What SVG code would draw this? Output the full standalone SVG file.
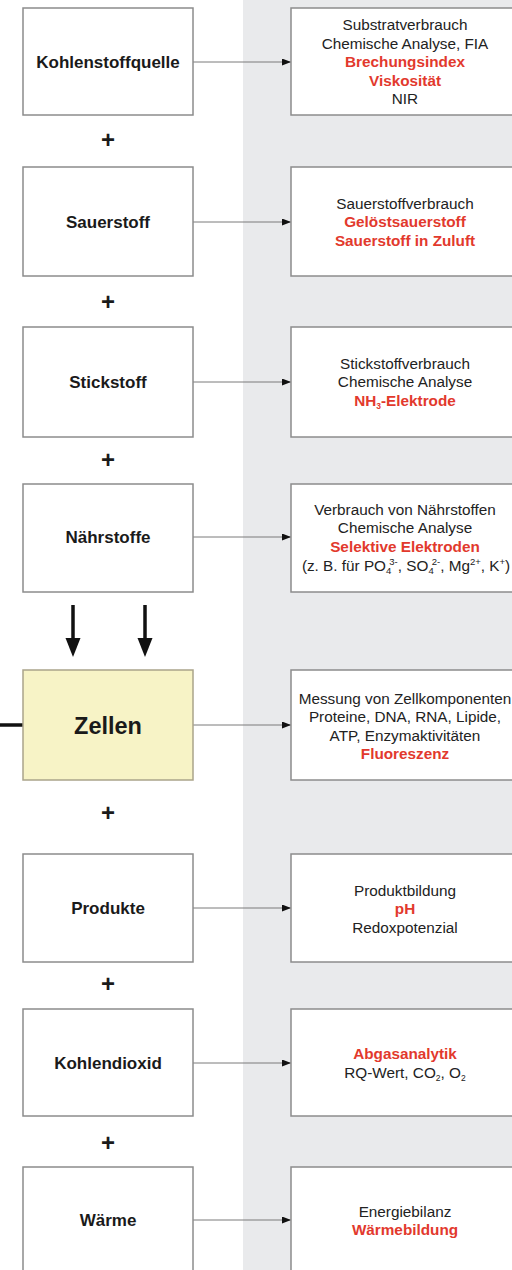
<svg xmlns="http://www.w3.org/2000/svg" width="512" height="1270" viewBox="0 0 512 1270">
<style>
.box{fill:#ffffff;stroke:#8c8c8c;stroke-width:1.5}
.cell{fill:#f7f3c6;stroke:#aaa48a;stroke-width:1.5}
.lbl{font-family:"Liberation Sans",Arial,sans-serif;font-weight:bold;font-size:17px;fill:#1a1a1a;text-anchor:middle}
.big{font-size:23.5px}
.plus{font-family:"Liberation Sans",Arial,sans-serif;font-weight:bold;font-size:24px;fill:#1a1a1a;text-anchor:middle}
.txt{font-family:"Liberation Sans",Arial,sans-serif;font-size:15.3px;fill:#222222;text-anchor:middle}
.red{fill:#e2392d;font-weight:bold}
.sm{font-size:8.5px}
.sn{font-size:9.5px}
.conn{stroke:#7a7a7a;stroke-width:1;fill:none}
.thick{stroke:#111111;stroke-width:3.5;fill:none}
</style>
<defs>
<marker id="ah" markerUnits="userSpaceOnUse" markerWidth="10" markerHeight="8" refX="9" refY="3.5" orient="auto">
<path d="M0,0 L9,3.5 L0,7 z" fill="#111111"/>
</marker>
<marker id="bh" markerUnits="userSpaceOnUse" markerWidth="20" markerHeight="16" refX="7" refY="7.5" orient="auto">
<path d="M0,0 L19,7.5 L0,15 z" fill="#111111"/>
</marker>
</defs>
<rect x="0" y="0" width="512" height="1270" fill="#ffffff"/>
<rect x="243" y="0" width="269" height="1270" fill="#e9eaec"/>

<g id="connectors">
<line class="conn" x1="193" y1="62" x2="291" y2="62" marker-end="url(#ah)"/>
<line class="conn" x1="193" y1="222" x2="291" y2="222" marker-end="url(#ah)"/>
<line class="conn" x1="193" y1="382" x2="291" y2="382" marker-end="url(#ah)"/>
<line class="conn" x1="193" y1="537" x2="291" y2="537" marker-end="url(#ah)"/>
<line class="conn" x1="193" y1="725" x2="291" y2="725" marker-end="url(#ah)"/>
<line class="conn" x1="193" y1="908" x2="291" y2="908" marker-end="url(#ah)"/>
<line class="conn" x1="193" y1="1063" x2="291" y2="1063" marker-end="url(#ah)"/>
<line class="conn" x1="193" y1="1220" x2="291" y2="1220" marker-end="url(#ah)"/>
<line class="thick" x1="73" y1="605" x2="73" y2="645" marker-end="url(#bh)"/>
<line class="thick" x1="145" y1="605" x2="145" y2="645" marker-end="url(#bh)"/>
<line class="thick" x1="0" y1="725" x2="23" y2="725" stroke-width="3"/>
</g>

<g id="n-kohlenstoffquelle">
<rect class="box" x="23" y="8" width="170" height="107"/>
<text class="lbl" x="108" y="68">Kohlenstoffquelle</text>
</g>
<g id="plus1"><text class="plus" x="108" y="148">+</text></g>
<g id="n-sauerstoff">
<rect class="box" x="23" y="167" width="170" height="109"/>
<text class="lbl" x="108" y="228">Sauerstoff</text>
</g>
<g id="plus2"><text class="plus" x="108" y="310">+</text></g>
<g id="n-stickstoff">
<rect class="box" x="23" y="327" width="170" height="110"/>
<text class="lbl" x="108" y="388">Stickstoff</text>
</g>
<g id="plus3"><text class="plus" x="108" y="468">+</text></g>
<g id="n-naehrstoffe">
<rect class="box" x="23" y="484" width="170" height="108"/>
<text class="lbl" x="108" y="543">Nährstoffe</text>
</g>
<g id="n-zellen">
<rect class="cell" x="23" y="670" width="170" height="110"/>
<text class="lbl big" x="108" y="733.5">Zellen</text>
</g>
<g id="plus4"><text class="plus" x="108" y="821">+</text></g>
<g id="n-produkte">
<rect class="box" x="23" y="854" width="170" height="108"/>
<text class="lbl" x="108" y="914">Produkte</text>
</g>
<g id="plus5"><text class="plus" x="108" y="992">+</text></g>
<g id="n-kohlendioxid">
<rect class="box" x="23" y="1009" width="170" height="107"/>
<text class="lbl" x="108" y="1069">Kohlendioxid</text>
</g>
<g id="plus6"><text class="plus" x="108" y="1151">+</text></g>
<g id="n-waerme">
<rect class="box" x="23" y="1167" width="170" height="115"/>
<text class="lbl" x="108" y="1226">Wärme</text>
</g>

<g id="m-substrat">
<rect class="box" x="291" y="8" width="230" height="107"/>
<text class="txt" x="405" y="30">Substratverbrauch</text>
<text class="txt" x="405" y="48.5">Chemische Analyse, FIA</text>
<text class="txt red" x="405" y="67">Brechungsindex</text>
<text class="txt red" x="405" y="85.5">Viskosität</text>
<text class="txt" x="405" y="104">NIR</text>
</g>
<g id="m-sauerstoff">
<rect class="box" x="291" y="167" width="230" height="109"/>
<text class="txt" x="405" y="208.5">Sauerstoffverbrauch</text>
<text class="txt red" x="405" y="227">Gelöstsauerstoff</text>
<text class="txt red" x="405" y="245.5">Sauerstoff in Zuluft</text>
</g>
<g id="m-stickstoff">
<rect class="box" x="291" y="327" width="230" height="110"/>
<text class="txt" x="405" y="368.5">Stickstoffverbrauch</text>
<text class="txt" x="405" y="387">Chemische Analyse</text>
<text class="txt red" x="405" y="405.5">NH<tspan class="sm" baseline-shift="-3">3</tspan>-Elektrode</text>
</g>
<g id="m-naehrstoffe">
<rect class="box" x="291" y="484" width="230" height="108"/>
<text class="txt" x="405" y="514.5">Verbrauch von Nährstoffen</text>
<text class="txt" x="405" y="533">Chemische Analyse</text>
<text class="txt red" x="405" y="551.5">Selektive Elektroden</text>
<text class="txt" x="406" y="571">(z. B. für PO<tspan class="sn" baseline-shift="-3">4</tspan><tspan class="sn" dx="-2" baseline-shift="6">3-</tspan>, SO<tspan class="sn" baseline-shift="-3">4</tspan><tspan class="sn" dx="-2" baseline-shift="6">2-</tspan>, Mg<tspan class="sn" baseline-shift="6">2+</tspan>, K<tspan class="sn" baseline-shift="6">+</tspan>)</text>
</g>
<g id="m-zellen">
<rect class="box" x="291" y="670" width="230" height="110"/>
<text class="txt" x="405" y="703.5">Messung von Zellkomponenten</text>
<text class="txt" x="405" y="722">Proteine, DNA, RNA, Lipide,</text>
<text class="txt" x="405" y="740.5">ATP, Enzymaktivitäten</text>
<text class="txt red" x="405" y="759">Fluoreszenz</text>
</g>
<g id="m-produkte">
<rect class="box" x="291" y="854" width="230" height="108"/>
<text class="txt" x="405" y="895.5">Produktbildung</text>
<text class="txt red" x="405" y="914">pH</text>
<text class="txt" x="405" y="932.5">Redoxpotenzial</text>
</g>
<g id="m-kohlendioxid">
<rect class="box" x="291" y="1009" width="230" height="107"/>
<text class="txt red" x="405" y="1058.5">Abgasanalytik</text>
<text class="txt" x="405" y="1077.5">RQ-Wert, CO<tspan class="sm" baseline-shift="-3">2</tspan>, O<tspan class="sm" baseline-shift="-3">2</tspan></text>
</g>
<g id="m-waerme">
<rect class="box" x="291" y="1167" width="230" height="115"/>
<text class="txt" x="405" y="1216.5">Energiebilanz</text>
<text class="txt red" x="405" y="1235">Wärmebildung</text>
</g>
</svg>
